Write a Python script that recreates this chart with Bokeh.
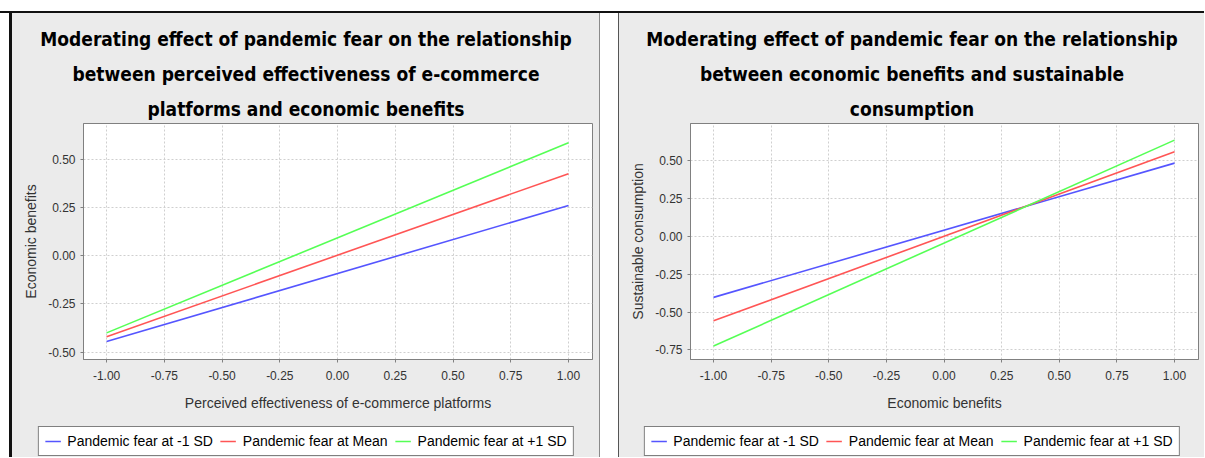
from bokeh.plotting import figure
from bokeh.models import (FixedTicker, NumeralTickFormatter, Legend, LegendItem,
                          Range1d, Spacer, Title)
from bokeh.layouts import row, column
from bokeh.embed import file_html
from bokeh.resources import INLINE

# ---------------- data ----------------
x_levels = [-1.0, 1.0]
series_names = ["Pandemic fear at -1 SD", "Pandemic fear at Mean", "Pandemic fear at +1 SD"]
series_colors = ["#5555ff", "#ff5555", "#55ff55"]

# Panel 1: perceived effectiveness -> economic benefits
eb_low = [-0.445, 0.260]
eb_mean = [-0.420, 0.425]
eb_high = [-0.400, 0.585]

# Panel 2: economic benefits -> sustainable consumption
sc_low = [-0.403, 0.485]
sc_mean = [-0.558, 0.560]
sc_high = [-0.725, 0.637]

x_ticks = [-1.0, -0.75, -0.5, -0.25, 0.0, 0.25, 0.5, 0.75, 1.0]
left_y_ticks = [-0.5, -0.25, 0.0, 0.25, 0.5]
right_y_ticks = [-0.75, -0.5, -0.25, 0.0, 0.25, 0.5]

left_title_lines = ["Moderating effect of pandemic fear on the relationship",
                    "between perceived effectiveness of e-commerce",
                    "platforms and economic benefits"]
right_title_lines = ["Moderating effect of pandemic fear on the relationship",
                     "between economic benefits and sustainable",
                     "consumption"]

TITLE_FONT = "DejaVu Sans Condensed"
TEXT_FONT = "Liberation Sans"
PANEL_BG = "#ebebeb"

HEADER_H = 108
MAIN_H = 294
LEGEND_H = 42
PANEL_H = HEADER_H + MAIN_H + LEGEND_H


def bare_figure(width, height):
    f = figure(width=width, height=height, output_backend="svg", toolbar_location=None,
               x_axis_location=None, y_axis_location=None,
               min_border_left=0, min_border_right=0, min_border_top=0, min_border_bottom=0)
    f.grid.visible = False
    f.outline_line_color = None
    f.background_fill_color = PANEL_BG
    f.border_fill_color = PANEL_BG
    f.title.visible = False
    return f


def make_panel(title_lines, xlabel, ylabel, series, y_range, y_ticks, width,
               min_left, min_right):
    # ---- header with the three-line title (centred on the panel) ----
    head = bare_figure(width, HEADER_H)
    standoffs = [3, 19, 3]
    for line, so in zip(title_lines, standoffs):
        t = Title(text=line, align="center", text_font=TITLE_FONT,
                  text_font_size="19px", text_font_style="bold", text_color="black",
                  standoff=so, offset=0)
        head.add_layout(t, "below")

    # ---- main chart ----
    p = figure(width=width, height=MAIN_H, output_backend="svg", toolbar_location=None,
               x_range=Range1d(-1.1, 1.104), y_range=Range1d(*y_range),
               min_border_left=min_left, min_border_right=min_right,
               min_border_top=2, min_border_bottom=56)
    p.background_fill_color = "white"
    p.border_fill_color = PANEL_BG
    p.outline_line_color = "#808080"
    p.outline_line_width = 1
    p.title.visible = False

    for ys, c in zip(series, series_colors):
        p.line(x_levels, ys, line_color=c, line_width=1.6)

    for ax in (p.xaxis[0], p.yaxis[0]):
        ax.axis_line_color = "#808080"
        ax.major_tick_line_color = "#808080"
        ax.major_tick_in = 0
        ax.major_tick_out = 3
        ax.minor_tick_line_color = None
        ax.major_label_text_font = TEXT_FONT
        ax.major_label_text_font_size = "12px"
        ax.major_label_text_color = "#333333"
        ax.axis_label_text_font = TEXT_FONT
        ax.axis_label_text_font_size = "14px"
        ax.axis_label_text_font_style = "normal"
        ax.axis_label_text_color = "#333333"
        ax.formatter = NumeralTickFormatter(format="0.00")

    p.xaxis[0].ticker = FixedTicker(ticks=x_ticks)
    p.yaxis[0].ticker = FixedTicker(ticks=y_ticks)
    p.xaxis[0].axis_label = xlabel
    p.yaxis[0].axis_label = ylabel
    p.xaxis[0].major_label_standoff = 8
    p.xaxis[0].axis_label_standoff = 12
    p.yaxis[0].major_label_standoff = 5
    p.yaxis[0].axis_label_standoff = 6

    p.grid.grid_line_color = "#cfcfcf"
    p.grid.grid_line_dash = "2 2"
    p.grid.grid_line_width = 1

    # ---- legend strip (series drawn off-view, only their legend entries show) ----
    leg = bare_figure(width, LEGEND_H)
    leg.x_range = Range1d(10, 11)
    leg.y_range = Range1d(10, 11)
    renderers = [leg.line(x_levels, ys, line_color=c, line_width=1.6)
                 for ys, c in zip(series, series_colors)]
    items = [LegendItem(label=n, renderers=[r]) for n, r in zip(series_names, renderers)]
    legend = Legend(items=items, orientation="horizontal", location="bottom_center",
                    border_line_color="black", border_line_width=1,
                    background_fill_color="white", background_fill_alpha=1.0,
                    label_text_font=TEXT_FONT, label_text_font_size="14px",
                    label_text_color="black", label_height=16,
                    glyph_width=16, glyph_height=16, label_standoff=7,
                    spacing=7, padding=6, margin=1)
    leg.add_layout(legend, "center")

    # nested rows keep the header / legend frames independent of the chart frame
    bg = {"background-color": PANEL_BG}
    return column(row(head, spacing=0, styles=bg), row(p, spacing=0, styles=bg),
                  row(leg, spacing=0, styles=bg), spacing=0, styles=bg)


c1 = make_panel(left_title_lines, "Perceived effectiveness of e-commerce platforms", "Economic benefits",
                [eb_low, eb_mean, eb_high], (-0.538, 0.685), left_y_ticks,
                width=587, min_left=71, min_right=7)
c2 = make_panel(right_title_lines, "Economic benefits", "Sustainable consumption",
                [sc_low, sc_mean, sc_high], (-0.814, 0.747), right_y_ticks,
                width=585, min_left=71, min_right=6)

panels = row(
    Spacer(width=9, height=PANEL_H),
    Spacer(width=3, height=PANEL_H, styles={"background-color": "#111111"}),
    c1,
    Spacer(width=1, height=PANEL_H, styles={"background-color": "#8a8a8a"}),
    Spacer(width=18, height=PANEL_H),
    Spacer(width=1, height=PANEL_H, styles={"background-color": "#555555"}),
    c2,
    spacing=0,
)

layout = column(
    Spacer(width=1204, height=11),
    Spacer(width=1204, height=2, styles={"background-color": "#111111"}),
    panels,
    spacing=0,
)

open("out.html", "w").write(file_html(layout, INLINE))
